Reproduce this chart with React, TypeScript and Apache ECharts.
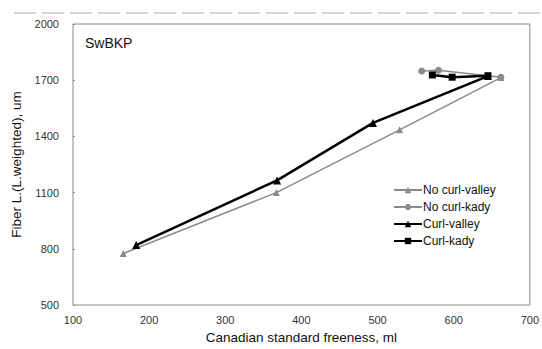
import React, { useEffect, useRef } from "react";
import * as echarts from "echarts";

const seriesNames = ["No curl-valley", "No curl-kady", "Curl-valley", "Curl-kady"];
const noCurlValley: [number, number][] = [[166, 775], [367, 1100], [529, 1435], [662, 1714]];
const noCurlKady: [number, number][] = [[558, 1749], [580, 1753], [662, 1716]];
const curlValley: [number, number][] = [[183, 820], [368, 1165], [494, 1472], [645, 1722]];
const curlKady: [number, number][] = [[572, 1728], [598, 1716], [645, 1724]];
const xTicks = { min: 100, max: 700, interval: 100 };
const yTicks = { min: 500, max: 2000, interval: 300 };

export default function App() {
  const ref = useRef<HTMLDivElement>(null);
  useEffect(() => {
    document.body.style.margin = "0";
    const chart = echarts.init(ref.current!, undefined, { renderer: "svg" });
    const font = "Liberation Sans, Arial, sans-serif";
    chart.setOption({
      animation: false,
      backgroundColor: "#fff",
      textStyle: { fontFamily: font },
      grid: { left: 73, right: 12, top: 24, bottom: 38, show: true, borderColor: "#888", borderWidth: 1 },
      title: {
        text: "SwBKP",
        left: 80,
        top: 31,
        textStyle: { fontSize: 14, fontWeight: "normal", color: "#111", fontFamily: font },
      },
      legend: {
        orient: "vertical",
        left: 388,
        top: 179,
        itemGap: 5,
        itemWidth: 28,
        itemHeight: 8,
        textStyle: { fontSize: 12, color: "#111", fontFamily: font, padding: [0, 0, 0, -4] },
        data: seriesNames,
      },
      xAxis: {
        type: "value",
        min: xTicks.min,
        max: xTicks.max,
        interval: xTicks.interval,
        name: "Canadian standard freeness, ml",
        nameLocation: "middle",
        nameGap: 25,
        nameTextStyle: { fontSize: 13.5, color: "#111", fontFamily: font },
        axisLine: { show: false },
        axisTick: { show: false },
        splitLine: { show: false },
        axisLabel: { fontSize: 11, color: "#333", margin: 9, formatter: (v: number) => String(v) },
      },
      yAxis: {
        type: "value",
        min: yTicks.min,
        max: yTicks.max,
        interval: yTicks.interval,
        name: "Fiber L.(L.weighted), um",
        nameLocation: "middle",
        nameGap: 29,
        nameTextStyle: { fontSize: 13.5, color: "#111", fontFamily: font },
        axisLine: { show: false },
        axisTick: { show: true, inside: true, length: 2, lineStyle: { color: "#888" } },
        splitLine: { show: false },
        axisLabel: { fontSize: 11, color: "#333", margin: 14, formatter: (v: number) => String(v) },
      },
      graphic: [
        {
          type: "line",
          shape: { x1: 14, y1: 13, x2: 542, y2: 13 },
          style: { stroke: "#aaa", lineWidth: 1, lineDash: [22, 6] },
        },
      ],
      series: [
        {
          name: seriesNames[0],
          type: "line",
          data: noCurlValley,
          symbol: "triangle",
          symbolSize: 7,
          lineStyle: { color: "#8a8a8a", width: 1.5 },
          itemStyle: { color: "#8a8a8a" },
        },
        {
          name: seriesNames[1],
          type: "line",
          data: noCurlKady,
          symbol: "circle",
          symbolSize: 7,
          lineStyle: { color: "#8a8a8a", width: 1.5 },
          itemStyle: { color: "#8a8a8a" },
        },
        {
          name: seriesNames[2],
          type: "line",
          data: curlValley,
          symbol: "triangle",
          symbolSize: 8,
          lineStyle: { color: "#000", width: 2.5 },
          itemStyle: { color: "#000" },
        },
        {
          name: seriesNames[3],
          type: "line",
          data: curlKady,
          symbol: "rect",
          symbolSize: 7,
          lineStyle: { color: "#000", width: 2.5 },
          itemStyle: { color: "#000" },
        },
      ],
    });
    return () => chart.dispose();
  }, []);
  return <div ref={ref} style={{ width: 542, height: 349 }} />;
}
